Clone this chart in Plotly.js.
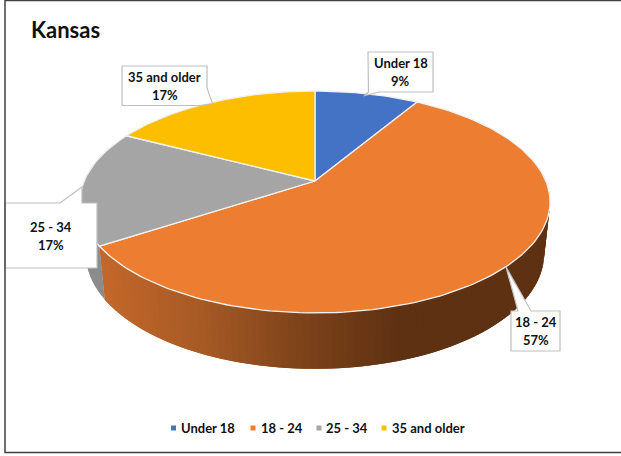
<!DOCTYPE html>
<html>
<head>
<meta charset="utf-8">
<script src="https://cdn.plot.ly/plotly-3.0.0.min.js"></script>
<style>html,body{margin:0;padding:0;background:#fff;overflow:hidden}#chart{width:621px;height:456px}</style>
</head>
<body>
<div id="chart"></div>
<script>
// --- data ---
const chartTitle = 'Kansas';
const categories = ['Under 18', '18 - 24', '25 - 34', '35 and older'];
const shares = [8.6, 57.2, 16.8, 17.4];
const topColors = ['#4472c4', '#ed7d31', '#a5a5a5', '#fdbe00'];
const wallColors = [null, 'gradient', '#8c8c8c', null];
const labelCentres = [[400.5, 72], [535.5, 331], [51, 235.5], [164.5, 85.5]];
const legendMarkerX = [173.5, 253, 319, 384];
const legendTextX = [181, 261, 326, 392];
const calloutPaths = [
  'M368,52 L433,52 L433,92 L379,92 L365,95.5 L368.5,92 Z',
  'M511,311 L518,311 L506,267 L531,311 L560,311 L560,351 L511,351 Z',
  'M5,203 L60,203 L82,187 L82,203 L97,203 L97,268 L5,268 Z',
  'M122,66 L207,66 L207,88 L212.5,103.5 L200,105.5 L122,105.5 Z'
];

// --- perspective disc geometry ---
const cx = 315, k = 0.189;
const topDisc = {y0: 181, A: 230.8, B: 107};
const baseDisc = {y0: 232, A: 225, B: 111};
function project(disc, deg, r) {
  const t = deg * Math.PI / 180, u = r * Math.sin(t), v = r * Math.cos(t), d = 1 + k * v;
  return [cx + disc.A * u / d, disc.y0 - disc.B * v / d];
}
const gradX = [104, 200, 300, 400];
const gradRGB = [[194, 103, 42], [167, 90, 37], [126, 67, 26], [94, 49, 19]];
function wallShade(x) {
  if (x <= gradX[0]) return `rgb(${gradRGB[0]})`;
  for (let i = 1; i < gradX.length; i++) {
    if (x <= gradX[i]) {
      const f = (x - gradX[i - 1]) / (gradX[i] - gradX[i - 1]);
      const c = gradRGB[i - 1].map((a, j) => Math.round(a + (gradRGB[i][j] - a) * f));
      return `rgb(${c})`;
    }
  }
  return `rgb(${gradRGB[gradRGB.length - 1]})`;
}

const total = shares.reduce((a, b) => a + b, 0);
const starts = [];
shares.reduce((acc, s, i) => { starts[i] = acc / total * 360; return acc + s; }, 0);
const traces = [];

// side walls (front portion only); each strip overlaps the next so no seams show
shares.forEach((s, i) => {
  if (!wallColors[i]) return;
  const a0 = starts[i], a1 = a0 + s / total * 360;
  const step = 1.5;
  for (let a = a0; a < a1; a += step) {
    const b = Math.min(a + 2 * step, a1);
    const c = Math.cos(a * Math.PI / 180);
    if (c > 0.35) continue;
    const p = [project(topDisc, a, 1), project(topDisc, b, 1), project(baseDisc, b, 1), project(baseDisc, a, 1)];
    const mid = project(topDisc, a + step / 2, 1);
    const col = wallColors[i] === 'gradient' ? wallShade(mid[0]) : wallColors[i];
    traces.push({x: [...p.map(q => q[0]), p[0][0]], y: [...p.map(q => q[1]), p[0][1]],
      type: 'scatter', mode: 'lines', fill: 'toself', fillcolor: col,
      line: {color: col, width: 0}, hoverinfo: 'skip', showlegend: false});
  }
});

// top faces
shares.forEach((s, i) => {
  const a0 = starts[i], a1 = a0 + s / total * 360;
  const xs = [cx], ys = [topDisc.y0];
  const n = Math.ceil((a1 - a0) / 1.5);
  for (let j = 0; j <= n; j++) {
    const q = project(topDisc, a0 + (a1 - a0) * j / n, 1);
    xs.push(q[0]); ys.push(q[1]);
  }
  xs.push(cx); ys.push(topDisc.y0);
  traces.push({x: xs, y: ys, name: categories[i], type: 'scatter', mode: 'lines', fill: 'toself',
    fillcolor: topColors[i], line: {color: '#f1f1f1', width: 1.3}, hoverinfo: 'skip', showlegend: false});
});

// legend markers
categories.forEach((c, i) => {
  traces.push({x: [legendMarkerX[i]], y: [428], type: 'scatter', mode: 'markers', name: c,
    marker: {symbol: 'square', size: 5, color: topColors[i]}, hoverinfo: 'skip', showlegend: false});
});

const textFont = {family: 'Lato, Carlito, sans-serif', size: 13, color: '#111111'};
const annotations = [];
categories.forEach((c, i) => {
  const [lx, ly] = labelCentres[i];
  annotations.push({x: lx, y: ly - 9, text: '<b>' + c + '</b>', showarrow: false, font: textFont, xanchor: 'center', yanchor: 'middle'});
  annotations.push({x: lx, y: ly + 9, text: '<b>' + Math.round(shares[i] / total * 100) + '%</b>', showarrow: false, font: textFont, xanchor: 'center', yanchor: 'middle'});
  annotations.push({x: legendTextX[i], y: 428, text: '<b>' + c + '</b>', showarrow: false, font: textFont, xanchor: 'left', yanchor: 'middle', xshift: -2});
});

const shapes = calloutPaths.map(p => ({type: 'path', path: p, xref: 'x', yref: 'y', layer: 'above',
  fillcolor: '#ffffff', line: {color: '#bfbfbf', width: 1.2}}));
shapes.push({type: 'path', xref: 'x', yref: 'y', path: 'M621,0.5 L5,0.5 L5,452.5 L621,452.5', layer: 'above',
  fillcolor: 'rgba(0,0,0,0)', line: {color: '#404040', width: 1.5}});

const layout = {
  width: 621, height: 456,
  margin: {l: 0, r: 0, t: 0, b: 0, pad: 0},
  paper_bgcolor: '#ffffff', plot_bgcolor: '#ffffff',
  title: {text: '<b>' + chartTitle + '</b>', x: 31 / 621, xanchor: 'left', y: 1 - 30 / 456, yanchor: 'middle',
    font: {family: 'Lato, Carlito, sans-serif', size: 22, color: '#111111'}},
  xaxis: {range: [0, 621], visible: false, fixedrange: true},
  yaxis: {range: [456, 0], visible: false, fixedrange: true},
  showlegend: false, hovermode: false,
  shapes: shapes, annotations: annotations
};
Plotly.newPlot('chart', traces, layout, {displayModeBar: false, responsive: false});
</script>
</body>
</html>
